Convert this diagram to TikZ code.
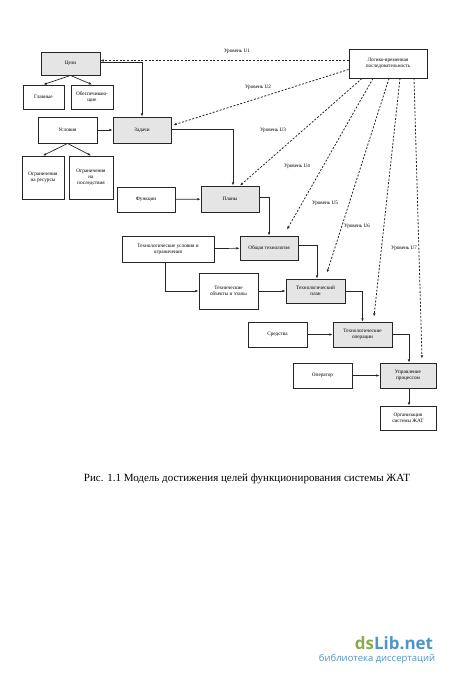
\documentclass[tikz,border=0pt]{standalone}
\usepackage{fontspec}
\setmainfont{Liberation Serif}
\newfontfamily\wmfont{Open Sans}
\usetikzlibrary{arrows.meta,positioning}
\definecolor{wmgreen}{RGB}{138,170,78}
\definecolor{wmblue}{RGB}{78,148,204}
\tikzset{
    %Define standard arrow tip
    >={Latex[length=3.2pt,width=2.6pt]},
    %Define style for boxes
    blok/.style={
           rectangle,
           draw=black!85, line width=0.9pt,
           fill=white,
           inner sep=1pt,
           font=\fontsize{5.2}{6}\selectfont,
           align=center},
    blokgray/.style={blok, fill=black!10},
    % Define arrow style
    pil/.style={->, line width=0.7pt, draw=black!85},
    stiplet/.style={->, line width=0.8pt, draw=black!85,
           dash pattern=on 2pt off 1.6pt},
    uroven/.style={font=\fontsize{5.2}{6}\selectfont, inner sep=0pt}
}
\begin{document}
\begin{tikzpicture}[x=1pt,y=-1pt]
\useasboundingbox (0,0) rectangle (450,682);
 %nodes
\node[blokgray, minimum width=59, minimum height=23] (celi) at (70.5,63.5) {Цели};
\node[blok, minimum width=41, minimum height=24] (glavnye) at (43.5,97) {Главные};
\node[blok, minimum width=42, minimum height=24] (obesp) at (92,97) {Обеспечиваю-\\щие};
\node[blok, minimum width=59, minimum height=26] (uslovia) at (67.5,130) {Условия};
\node[blokgray, minimum width=58, minimum height=26] (zadachi) at (142,130) {Задачи};
\node[blok, minimum width=42, minimum height=43] (ogrres) at (43,177.5) {Ограничения\\на ресурсы};
\node[blok, minimum width=44, minimum height=43] (ogrpos) at (91,177.5) {Ограничения\\на\\последствия};
\node[blok, minimum width=58, minimum height=25] (funkcii) at (146,199.5) {Функции};
\node[blokgray, minimum width=58, minimum height=26] (plany) at (230,199) {Планы};
\node[blok, minimum width=92, minimum height=26] (tehusl) at (168,249) {Технологические условия и\\ограничения};
\node[blokgray, minimum width=58, minimum height=24] (obshtech) at (269,248) {Общая технология};
\node[blok, minimum width=59, minimum height=36] (tehobj) at (228.5,291) {Технические\\объекты и этапы};
\node[blokgray, minimum width=59, minimum height=24] (tehplan) at (315.5,291) {Технологический\\план};
\node[blok, minimum width=59, minimum height=25] (sredstva) at (277.5,334.5) {Средства};
\node[blokgray, minimum width=59, minimum height=25] (tehoper) at (362.5,334.5) {Технологические\\операции};
\node[blok, minimum width=59, minimum height=25] (operator) at (322.5,375.5) {Оператор};
\node[blokgray, minimum width=56, minimum height=25] (upravl) at (408,375.5) {Управление\\процессом};
\node[blok, minimum width=56, minimum height=24] (organiz) at (408,418) {Организация\\системы ЖАТ};
\node[blok, minimum width=78, minimum height=29] (logiko) at (388,63.5) {Логико-временная\\последовательность};
 %level labels
\node[uroven] (u1) at (237,51) {Уровень U1};
\node[uroven] (u2) at (258,87) {Уровень U2};
\node[uroven] (u3) at (273,130) {Уровень U3};
\node[uroven] (u4) at (297,166) {Уровень U4};
\node[uroven] (u5) at (325,203) {Уровень U5};
\node[uroven] (u6) at (357,226) {Уровень U6};
\node[uroven] (u7) at (404,248) {Уровень U7};
 %solid connectors
\draw[pil] (celi.south) -- (glavnye.north);
\draw[pil] (celi.south) -- (obesp.north);
\draw[pil] ([yshift=1.5pt]celi.east) -| (zadachi.north);
\draw[pil] (uslovia) -- (zadachi);
\draw[pil] (uslovia.south) -- (ogrres.north);
\draw[pil] (uslovia.south) -- (ogrpos.north);
\draw[pil] ([yshift=1pt]zadachi.east) -| ([xshift=3pt]plany.north);
\draw[pil] (funkcii) -- (plany);
\draw[pil] ([yshift=2pt]plany.east) -| (obshtech.north);
\draw[pil] (tehusl) -- (obshtech);
\draw[pil] ([xshift=-3pt]tehusl.south) |- (tehobj.west);
\draw[pil] (tehobj) -- (tehplan);
\draw[pil] ([yshift=3pt]obshtech.east) -| ([xshift=1.5pt]tehplan.north);
\draw[pil] (tehplan.east) -| (tehoper.north);
\draw[pil] (sredstva) -- (tehoper);
\draw[pil] (tehoper.east) -| ([xshift=1pt]upravl.north);
\draw[pil] (operator) -- (upravl);
\draw[pil] ([xshift=1pt]upravl.south) -- ([xshift=1pt]organiz.north);
 %dashed levels
\draw[stiplet] ([yshift=3pt]logiko.west) -- ([yshift=3pt]celi.east);
\draw[stiplet] ([yshift=-6pt]logiko.west) -- ([yshift=5pt,xshift=2pt]zadachi.east);
\draw[stiplet] ([xshift=-26pt]logiko.south) -- ([xshift=10pt]plany.north);
\draw[stiplet] ([xshift=-15pt]logiko.south) -- ([xshift=18pt,yshift=6pt]obshtech.north);
\draw[stiplet] ([xshift=1pt]logiko.south) -- ([xshift=11.5pt,yshift=6pt]tehplan.north);
\draw[stiplet] ([xshift=12pt]logiko.south) -- ([xshift=11.5pt,yshift=5pt]tehoper.north);
\draw[stiplet] ([xshift=26pt]logiko.south) -- ([xshift=14pt,yshift=4pt]upravl.north);
 %caption and watermark
\node[font=\fontsize{11}{13}\selectfont] (caption) at (247,479) {Рис. 1.1 Модель достижения целей функционирования системы ЖАТ};
\node[font=\wmfont\bfseries\fontsize{17}{18}\selectfont, inner sep=0pt] (wmtitle) at (394,643) {\textcolor{wmgreen}{ds}\textcolor{wmblue}{Lib.net}};
\node[font=\wmfont\fontsize{9.5}{10}\selectfont, text=wmblue, inner sep=0pt] (wmsub) at (377,659) {библиотека диссертаций};
\end{tikzpicture}
\end{document}
